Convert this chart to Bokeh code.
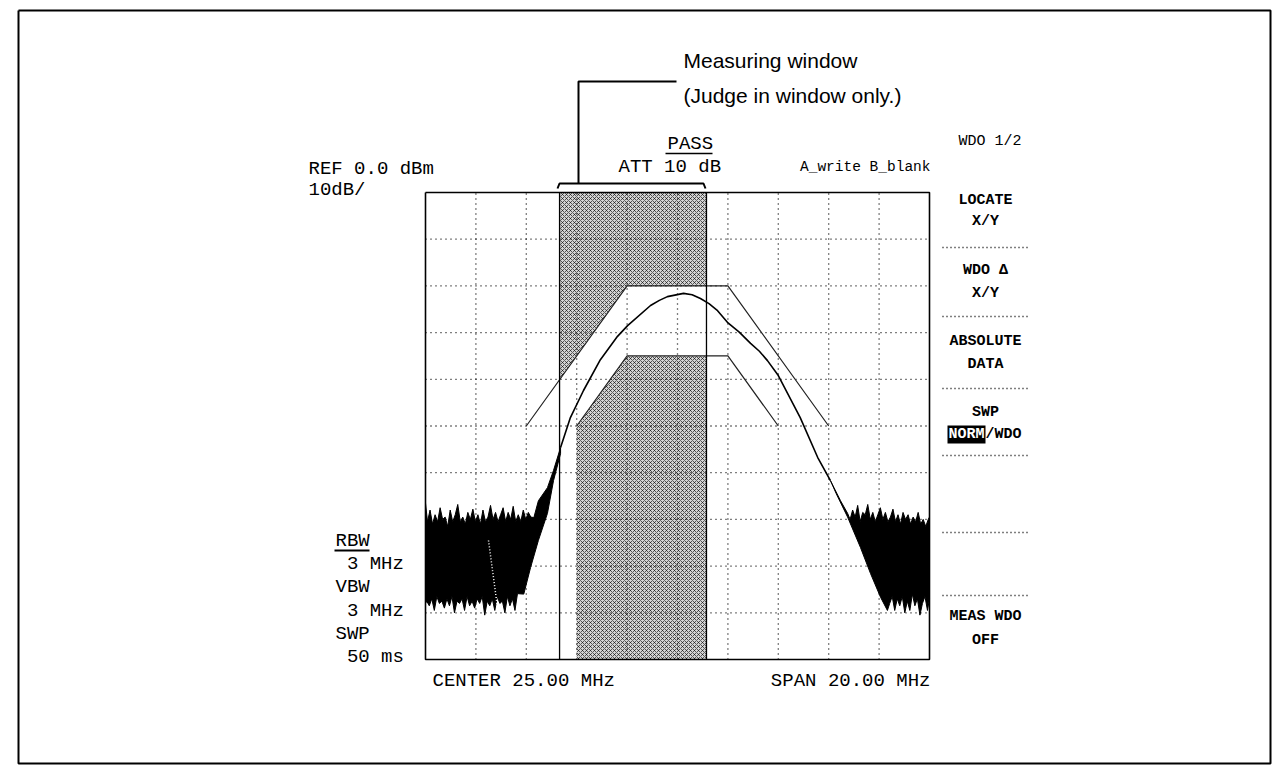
from bokeh.plotting import figure
from bokeh.models import Range1d, Label
from bokeh.embed import file_html
from bokeh.resources import INLINE
import numpy as np

# ---------------- data ----------------
CENTER_MHZ = 25.0
SPAN_MHZ = 20.0
REF_DBM = 0.0
DB_PER_DIV = 10.0
N_DIV = 10

grid_f = [17, 19, 21, 23, 25, 27, 29, 31, 33]
grid_db = [-10, -20, -30, -40, -50, -60, -70, -80, -90]

# measured trace (main lobe)
trace_f = [20.36, 20.75, 21.27, 21.94, 22.62, 23.02, 23.93, 24.28, 24.60, 25.24,
           25.58, 25.91, 26.25, 26.59, 26.98, 27.45, 27.90, 28.25, 28.57, 29.00,
           29.87, 30.56, 31.07]
trace_db = [-54.6, -48.2, -42.4, -35.8, -30.8, -28.5, -24.2, -23.1, -22.3, -21.6,
            -21.9, -22.7, -23.8, -25.3, -27.8, -29.9, -32.3, -34.0, -36.0, -39.2,
            -48.2, -56.7, -61.7]

# noise floor, left side (upper envelope, rising skirt, lower envelope)
noise_l_top_f = [15.00, 15.08, 15.18, 15.28, 15.38, 15.48, 15.58, 15.68, 15.78, 15.88,
                 15.98, 16.08, 16.18, 16.28, 16.38, 16.48, 16.58, 16.68, 16.78, 16.88,
                 16.98, 17.08, 17.18, 17.28, 17.38, 17.48, 17.58, 17.68, 17.78, 17.88,
                 17.98, 18.08, 18.18, 18.28, 18.38, 18.48, 18.58, 18.68, 18.78, 18.88,
                 18.98, 19.08, 19.18, 19.30]
noise_l_top_db = [-66.5, -70.5, -68.0, -71.0, -69.0, -70.5, -67.5, -70.0, -69.5, -71.5,
                  -68.0, -70.5, -69.0, -66.8, -70.5, -69.5, -71.0, -68.5, -70.0, -67.8,
                  -70.5, -69.0, -71.0, -68.0, -70.5, -69.5, -67.0, -70.0, -68.5, -70.5,
                  -69.0, -67.5, -70.5, -68.5, -70.0, -67.2, -70.5, -69.0, -70.5, -68.0,
                  -70.0, -68.5, -69.5, -69.6]
skirt_l_up_f = [19.48, 19.84, 20.08, 20.36]
skirt_l_up_db = [-66.0, -63.2, -59.5, -54.6]
skirt_l_lo_f = [20.36, 20.08, 19.84, 19.48, 19.17, 18.90, 18.65]
skirt_l_lo_db = [-55.9, -61.7, -68.7, -74.5, -80.3, -86.0, -85.9]
noise_l_bot_f = [18.55, 18.45, 18.35, 18.25, 18.15, 18.05, 17.95, 17.85, 17.75, 17.65,
                 17.55, 17.45, 17.35, 17.25, 17.15, 17.05, 16.95, 16.85, 16.75, 16.65,
                 16.55, 16.45, 16.35, 16.25, 16.15, 16.05, 15.95, 15.85, 15.75, 15.65,
                 15.55, 15.45, 15.35, 15.25, 15.15, 15.05, 15.00]
noise_l_bot_db = [-89.5, -87.0, -88.5, -86.5, -90.0, -87.5, -88.0, -86.5, -89.5, -87.0,
                  -88.5, -87.5, -90.5, -86.5, -88.0, -87.0, -89.0, -87.5, -88.5, -86.5,
                  -89.5, -87.0, -88.0, -87.5, -90.0, -86.5, -88.5, -87.0, -89.0, -87.5,
                  -88.0, -86.5, -89.5, -87.0, -88.5, -87.5, -88.0]

# noise floor, right side
skirt_r_up_f = [31.07, 31.47, 31.75]
skirt_r_up_db = [-61.7, -66.0, -68.7]
noise_r_top_f = [31.85, 31.95, 32.05, 32.15, 32.25, 32.35, 32.45, 32.55, 32.65, 32.75,
                 32.85, 32.95, 33.05, 33.15, 33.25, 33.35, 33.45, 33.55, 33.65, 33.75,
                 33.85, 33.95, 34.05, 34.15, 34.25, 34.35, 34.45, 34.55, 34.65, 34.75,
                 34.85, 34.95, 35.00]
noise_r_top_db = [-70.0, -68.0, -69.5, -67.0, -70.5, -68.5, -69.0, -66.8, -70.0, -68.5,
                  -70.5, -69.0, -67.5, -70.0, -68.5, -70.5, -69.5, -67.8, -70.5, -69.0,
                  -71.0, -68.5, -70.0, -69.0, -71.0, -69.5, -70.5, -68.5, -71.0, -70.0,
                  -71.5, -70.0, -69.5]
noise_r_bot_f = [35.00, 34.92, 34.82, 34.72, 34.62, 34.52, 34.42, 34.32, 34.22, 34.12,
                 34.02, 33.92, 33.82, 33.72, 33.62, 33.52, 33.42, 33.33]
noise_r_bot_db = [-87.0, -89.5, -86.5, -88.0, -90.5, -87.0, -88.5, -86.0, -89.5, -87.5,
                  -90.0, -86.5, -88.5, -87.0, -89.5, -86.5, -88.0, -89.5]
skirt_r_lo_f = [33.06, 32.66, 32.26, 31.75, 31.30]
skirt_r_lo_db = [-86.7, -81.6, -76.0, -69.5, -64.5]

# limit lines
upper_lim_f = [19, 23, 27, 31]
upper_lim_db = [-50, -20, -20, -50]
lower_lim_f = [21, 23, 27, 29]
lower_lim_db = [-50, -35, -35, -50]

# measuring window
win_lo_f = 20.32
win_hi_f = 26.15

softkeys = ["LOCATE", "X/Y", "WDO Δ", "X/Y", "ABSOLUTE", "DATA", "SWP", None, "MEAS WDO", "OFF"]
left_ann = ["RBW", "3 MHz", "VBW", "3 MHz", "SWP", "50 ms"]
left_indent = [0, 1, 0, 1, 0, 1]

# ---------------- geometry (image pixels of the graticule) ----------------
W, H = 1279, 774
OX, OY = 0, 0
GX0, GX1 = 425, 929
GY0, GY1 = 192, 659
F_LO = CENTER_MHZ - SPAN_MHZ / 2
F_HI = CENTER_MHZ + SPAN_MHZ / 2
DB_TOP = REF_DBM
DB_BOT = REF_DBM - DB_PER_DIV * N_DIV


def fx(x):
    return F_LO + (x - GX0) * (F_HI - F_LO) / (GX1 - GX0)


def fy(y):
    return DB_TOP - (y - GY0) * (DB_TOP - DB_BOT) / (GY1 - GY0)


p = figure(width=W, height=H, output_backend="svg", toolbar_location=None,
           x_range=Range1d(fx(OX), fx(OX + W)), y_range=Range1d(fy(OY + H), fy(OY)),
           x_axis_type=None, y_axis_type=None, min_border=0,
           outline_line_color=None, background_fill_color="white",
           border_fill_color="white")
p.xgrid.visible = False
p.ygrid.visible = False

# outer frame
p.line([fx(18), fx(1270), fx(1270), fx(18), fx(18)],
       [fy(10), fy(10), fy(763), fy(763), fy(10)], line_color="black", line_width=2)

# shaded pass/fail regions (inside measuring window)
ul_at_lo = float(np.interp(win_lo_f, upper_lim_f, upper_lim_db))
ul_at_hi = float(np.interp(win_hi_f, upper_lim_f, upper_lim_db))
inside_u = [(f, d) for f, d in zip(upper_lim_f, upper_lim_db) if win_lo_f < f < win_hi_f]
up_xs = [win_lo_f, win_hi_f, win_hi_f] + [f for f, d in inside_u][::-1] + [win_lo_f]
up_ys = [DB_TOP, DB_TOP, ul_at_hi] + [d for f, d in inside_u][::-1] + [ul_at_lo]
ll_at_hi = float(np.interp(win_hi_f, lower_lim_f, lower_lim_db))
inside_l = [(f, d) for f, d in zip(lower_lim_f[1:], lower_lim_db[1:]) if f < win_hi_f]
lo_xs = [lower_lim_f[0]] + [f for f, d in inside_l] + [win_hi_f, win_hi_f, lower_lim_f[0]]
lo_ys = [lower_lim_db[0]] + [d for f, d in inside_l] + [ll_at_hi, DB_BOT, DB_BOT]
for xs, ys in ((up_xs, up_ys), (lo_xs, lo_ys)):
    p.patch(xs, ys, fill_color="#d4d4d4", hatch_pattern="x", hatch_color="black",
            hatch_scale=4, hatch_weight=1, hatch_alpha=0.6, line_color=None)

# dotted graticule
p.segment(x0=grid_f, y0=[DB_BOT] * len(grid_f), x1=grid_f, y1=[DB_TOP] * len(grid_f),
          line_color="black", line_width=1.3, line_dash="1 4")
p.segment(x0=[F_LO] * len(grid_db), y0=grid_db, x1=[F_HI] * len(grid_db), y1=grid_db,
          line_color="black", line_width=1.3, line_dash="1 4")

# noise floors
nl_x = noise_l_top_f + skirt_l_up_f + skirt_l_lo_f + noise_l_bot_f
nl_y = noise_l_top_db + skirt_l_up_db + skirt_l_lo_db + noise_l_bot_db
p.patch(nl_x, nl_y, fill_color="black", line_color="black", line_width=1)
nr_x = skirt_r_up_f + noise_r_top_f + noise_r_bot_f + skirt_r_lo_f
nr_y = skirt_r_up_db + noise_r_top_db + noise_r_bot_db + skirt_r_lo_db
p.patch(nr_x, nr_y, fill_color="black", line_color="black", line_width=1)

# faint dotted streak visible through the left noise
p.line([fx(488), fx(497)], [fy(540), fy(607)], line_color="white", line_width=1.5,
       line_dash="1 2")

# limit lines
p.line(upper_lim_f, upper_lim_db, line_color="#222222", line_width=1.2)
p.line(lower_lim_f, lower_lim_db, line_color="#222222", line_width=1.2)

# trace
p.line(trace_f, trace_db, line_color="black", line_width=1.6)

# measuring window edges
p.segment(x0=[win_lo_f, win_hi_f], y0=[DB_BOT, DB_BOT], x1=[win_lo_f, win_hi_f],
          y1=[DB_TOP, DB_TOP], line_color="black", line_width=1.3)

# graticule border
p.line([F_LO, F_HI, F_HI, F_LO, F_LO], [DB_TOP, DB_TOP, DB_BOT, DB_BOT, DB_TOP],
       line_color="black", line_width=1.6)

# window bracket and leader
p.line([fx(557), fx(559), fx(703), fx(705)], [fy(188), fy(183), fy(183), fy(188)],
       line_color="black", line_width=2)
p.line([fx(578), fx(578), fx(676)], [fy(183), fy(81), fy(81)],
       line_color="black", line_width=2)

# underlines
p.line([fx(665), fx(712)], [fy(153), fy(153)], line_color="black", line_width=1.5)
p.line([fx(334), fx(369)], [fy(550), fy(550)], line_color="black", line_width=2)

# softkey separators
for ysep in (247, 316, 388, 455, 532, 595):
    p.line([fx(942), fx(1028)], [fy(ysep), fy(ysep)], line_color="black",
           line_width=1.6, line_dash="1 3")

# NORM highlight
p.quad(left=fx(947), right=fx(985), top=fy(425), bottom=fy(443),
       fill_color="black", line_color=None)


def lab(text, x, y, size, font="Liberation Mono", align="left", color="black", style="normal"):
    p.add_layout(Label(x=fx(x), y=fy(y), text=text, text_font=font,
                       text_font_size=f"{size}px", text_align=align,
                       text_baseline="middle", text_color=color,
                       text_font_style=style))


lab("Measuring window", 683, 60, 21, font="Liberation Sans")
lab("(Judge in window only.)", 683, 95, 21, font="Liberation Sans")
lab("PASS", 667, 143, 19)
lab("ATT 10 dB", 618, 166.5, 19)
lab(f"REF {REF_DBM:.1f} dBm", 308, 168.5, 19)
lab(f"{DB_PER_DIV:.0f}dB/", 308, 189.5, 19)
lab("A_write B_blank", 930, 166, 14.5, align="right")
lab("WDO 1/2", 958, 141, 15)

sk_y = [199.5, 220.5, 269.5, 292.5, 340.5, 363.5, 411.5, None, 615.5, 639.5]
for t, yy in zip(softkeys, sk_y):
    if t is not None:
        lab(t, 985, yy, 15, align="center", style="bold")
lab("NORM", 948, 434, 15, color="white", style="bold")
lab("/WDO", 985, 434, 15, style="bold")

for t, ind, yy in zip(left_ann, left_indent, [540, 563.5, 586.5, 610.5, 633.5, 656.5]):
    lab(t, 335 + 11.4 * ind, yy, 19)

lab(f"CENTER {CENTER_MHZ:.2f} MHz", 432, 680, 19)
lab(f"SPAN {SPAN_MHZ:.2f} MHz", 930, 680, 19, align="right")

open("out.html", "w").write(file_html(p, INLINE))
